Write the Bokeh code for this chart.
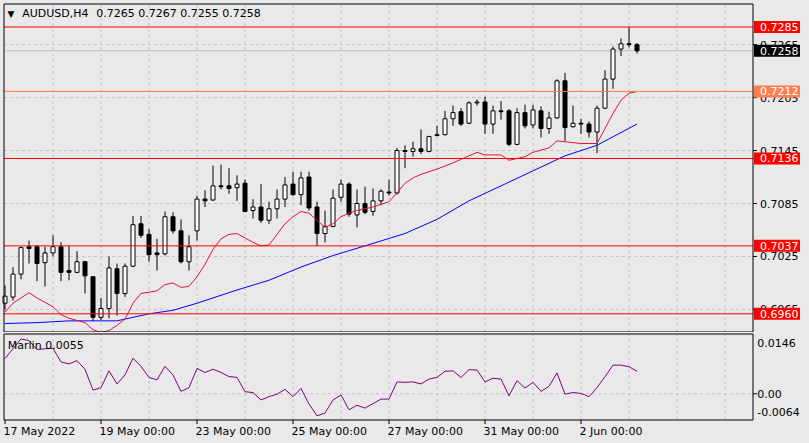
from bokeh.plotting import figure
from bokeh.layouts import column
from bokeh.models import Range1d, ColumnDataSource
from bokeh.embed import file_html
from bokeh.resources import INLINE
from bokeh.core.properties import value

# ---------------- data ----------------
SYMBOL = "AUDUSD,H4"
OPEN = [0.6972, 0.6979, 0.7005, 0.7036, 0.7036, 0.7018, 0.7029, 0.7036, 0.7009, 0.7007,
        0.7019, 0.7002, 0.6956, 0.6966, 0.7011, 0.6983, 0.7014, 0.7062, 0.7050, 0.7029,
        0.7028, 0.7070, 0.7054, 0.7019, 0.7054, 0.7090, 0.7089, 0.7105, 0.7105, 0.7103,
        0.7108, 0.7077, 0.7081, 0.7066, 0.7079, 0.7090, 0.7107, 0.7095, 0.7115, 0.7081,
        0.7051, 0.7059, 0.7092, 0.7107, 0.7072, 0.7085, 0.7076, 0.7088, 0.7098, 0.7097,
        0.7145, 0.7144, 0.7147, 0.7144, 0.7162, 0.7163, 0.7181, 0.7189, 0.7176, 0.7199,
        0.7200, 0.7175, 0.7190, 0.7190, 0.7152, 0.7188, 0.7174, 0.7190, 0.7170, 0.7182,
        0.7224, 0.7172, 0.7176, 0.7175, 0.7166, 0.7193, 0.7226, 0.7260, 0.7266, 0.7265]
HIGH = [0.6992, 0.7013, 0.7036, 0.7043, 0.7038, 0.7036, 0.7049, 0.7041, 0.7037, 0.7031,
        0.7020, 0.7003, 0.6978, 0.7025, 0.7017, 0.7017, 0.7071, 0.7071, 0.7056, 0.7045,
        0.7076, 0.7075, 0.7067, 0.7049, 0.7094, 0.7100, 0.7128, 0.7129, 0.7125, 0.7117,
        0.7112, 0.7090, 0.7107, 0.7087, 0.7101, 0.7115, 0.7121, 0.7121, 0.7121, 0.7087,
        0.7077, 0.7101, 0.7112, 0.7109, 0.7101, 0.7104, 0.7102, 0.7101, 0.7112, 0.7148,
        0.7151, 0.7155, 0.7169, 0.7161, 0.7173, 0.7190, 0.7196, 0.7193, 0.7201, 0.7203,
        0.7206, 0.7196, 0.7201, 0.7192, 0.7193, 0.7197, 0.7197, 0.7195, 0.7189, 0.7226,
        0.7233, 0.7196, 0.7181, 0.7178, 0.7196, 0.7236, 0.7263, 0.7272, 0.7285, 0.7267]
LOW = [0.6965, 0.6975, 0.6999, 0.7017, 0.6997, 0.6991, 0.7025, 0.6997, 0.6998, 0.7006,
       0.6983, 0.6952, 0.6953, 0.6955, 0.6958, 0.6979, 0.7013, 0.7046, 0.7019, 0.7009,
       0.7026, 0.7051, 0.7017, 0.7009, 0.7043, 0.7081, 0.7088, 0.7101, 0.7096, 0.7088,
       0.7075, 0.7068, 0.7063, 0.7062, 0.7068, 0.7081, 0.7094, 0.7083, 0.7077, 0.7037,
       0.7041, 0.7058, 0.7087, 0.7070, 0.7058, 0.7073, 0.7071, 0.7083, 0.7094, 0.7095,
       0.7125, 0.7138, 0.7141, 0.7143, 0.7161, 0.7162, 0.7173, 0.7173, 0.7175, 0.7196,
       0.7164, 0.7164, 0.7180, 0.7150, 0.7151, 0.7170, 0.7170, 0.7160, 0.7164, 0.7181,
       0.7156, 0.7171, 0.7164, 0.7160, 0.7142, 0.7192, 0.7215, 0.7252, 0.7262, 0.7255]
CLOSE = [0.6980, 0.7005, 0.7035, 0.7034, 0.7017, 0.7029, 0.7036, 0.7007, 0.7007, 0.7019,
         0.7003, 0.6956, 0.6966, 0.7012, 0.6983, 0.7014, 0.7061, 0.7049, 0.7027, 0.7027,
         0.7070, 0.7054, 0.7019, 0.7036, 0.7090, 0.7088, 0.7105, 0.7104, 0.7102, 0.7107,
         0.7076, 0.7081, 0.7066, 0.7079, 0.7090, 0.7106, 0.7095, 0.7114, 0.7080, 0.7051,
         0.7059, 0.7091, 0.7107, 0.7073, 0.7085, 0.7075, 0.7088, 0.7099, 0.7097, 0.7145,
         0.7144, 0.7147, 0.7144, 0.7161, 0.7163, 0.7181, 0.7188, 0.7175, 0.7199, 0.7200,
         0.7175, 0.7190, 0.7189, 0.7152, 0.7188, 0.7173, 0.7191, 0.7170, 0.7182, 0.7224,
         0.7171, 0.7176, 0.7175, 0.7166, 0.7193, 0.7226, 0.7260, 0.7266, 0.7265, 0.7258]

FAST_MA_BARS = [0, 1, 3, 4, 6, 7, 8, 10, 11, 12, 13, 14, 15, 16, 17, 19, 20, 21, 22, 23,
                24, 25, 26, 27, 28, 29, 30, 31, 32, 33, 34, 35, 36, 37, 38, 39, 40, 41, 42, 43,
                44, 46, 48, 49, 50, 51, 52, 54, 56, 57, 58, 59, 60, 62, 63, 64, 65, 66, 68, 69,
                70, 72, 74, 75, 76, 77, 78, 79]
FAST_MA = [0.6962, 0.6972, 0.6984, 0.6978, 0.6968, 0.6959, 0.6955, 0.6950, 0.6942, 0.6939,
           0.6941, 0.6947, 0.6954, 0.6972, 0.6983, 0.6986, 0.6993, 0.6995, 0.6990, 0.6991,
           0.7002, 0.7016, 0.7033, 0.7045, 0.7050, 0.7051, 0.7046, 0.7041, 0.7037, 0.7038,
           0.7050, 0.7062, 0.7070, 0.7076, 0.7074, 0.7066, 0.7058, 0.7062, 0.7070, 0.7074,
           0.7077, 0.7081, 0.7087, 0.7097, 0.7108, 0.7114, 0.7118, 0.7124, 0.7131, 0.7135,
           0.7139, 0.7143, 0.7140, 0.7140, 0.7134, 0.7136, 0.7138, 0.7143, 0.7148, 0.7156,
           0.7155, 0.7153, 0.7153, 0.7170, 0.7187, 0.7202, 0.7210, 0.7212]

SLOW_MA_BARS = [0, 4, 8, 12, 14, 16, 18, 21, 24, 29, 33, 37, 41, 45, 50, 54, 58, 62, 66, 70, 74, 79]
SLOW_MA = [0.6949, 0.6950, 0.6952, 0.6952, 0.6952, 0.6956, 0.6960, 0.6964, 0.6972, 0.6987,
           0.6998, 0.7013, 0.7026, 0.7037, 0.7051, 0.7067, 0.7088, 0.7105, 0.7122, 0.7139,
           0.7151, 0.7175]

MARLIN = [0.0086, 0.0110, 0.0134, 0.0130, 0.0108, 0.0110, 0.0111, 0.0078, 0.0073, 0.0081,
          0.0060, 0.0009, 0.0015, 0.0056, 0.0024, 0.0046, 0.0087, 0.0067, 0.0040, 0.0034,
          0.0067, 0.0046, 0.0006, 0.0015, 0.0062, 0.0052, 0.0060, 0.0052, 0.0042, 0.0040,
          0.0005, 0.0003, -0.0015, -0.0007, -0.0001, 0.0011, -0.0007, 0.0013, -0.0025, -0.0054,
          -0.0047, -0.0015, -0.0003, -0.0039, -0.0028, -0.0035, -0.0024, -0.0013, -0.0013, 0.0029,
          0.0028, 0.0029, 0.0024, 0.0036, 0.0040, 0.0055, 0.0056, 0.0040, 0.0059, 0.0058,
          0.0029, 0.0038, 0.0036, -0.0005, 0.0032, 0.0014, 0.0028, 0.0006, 0.0018, 0.0051,
          -0.0001, 0.0003, 0.0001, -0.0007, 0.0015, 0.0042, 0.0070, 0.0070, 0.0066, 0.0055]

PRICE_TICKS = [0.7265, 0.7205, 0.7145, 0.7085, 0.7025, 0.6965]
LEVELS = [0.7285, 0.7212, 0.7136, 0.7037, 0.6960]
LEVEL_COLORS = ["#ff0000", "#ff7f50", "#ff0000", "#ff0000", "#ff0000"]
BID = 0.7258
MARLIN_MAX, MARLIN_MIN = 0.0146, -0.0064
TIME_LABELS = ["17 May 2022", "19 May 00:00", "23 May 00:00", "25 May 00:00",
               "27 May 00:00", "31 May 00:00", "2 Jun 00:00"]
TIME_LABEL_BARS = [0, 12, 24, 36, 48, 60, 72]
BARS_PER_DAY = 6
N_GRID_DAYS = 15

# ---------------- layout / style ----------------
BG = "#e9e9e9"
GRIDC = "#c2c2c2"
FAST_C = "#e0143c"
SLOW_C = "#0000ff"
MARLIN_C = "#800080"
FONT = value("DejaVu Sans")
FS = "11px"

W, HA, HB = 809, 332, 111
BAR_PX = 8.0
X0 = -4.5 / BAR_PX            # bar 0 sits at x = 4.5 px
X1 = X0 + W / BAR_PX


def bx(px):
    return X0 + px / BAR_PX


LEFT = bx(3.5)
AXIS = bx(752.5)

KA = 8825.0                   # px per price unit
P_TOP = 0.7285 + 23.0 / KA    # pane top border (y = 3.5 px)
P_BOT = P_TOP - 328.0 / KA    # pane bottom border (y = 331.5 px)
A_END = P_TOP + 3.5 / KA
A_START = A_END - HA / KA


def ay(px):
    return A_END - px / KA


KB = 86.0 / (MARLIN_MAX - MARLIN_MIN)
B_END = MARLIN_MAX + 1.5 / KB
B_START = B_END - HB / KB


def by(px):
    return B_END - px / KB


GRID_BARS = [BARS_PER_DAY * k for k in range(1, N_GRID_DAYS + 1)]
n = len(OPEN)
IDX = list(range(n))


def text_kw(color="black", size=FS, align="left"):
    return dict(text_font=FONT, text_font_size=size, text_color=color,
                text_align=align, text_baseline="middle")


# ---------------- main price pane ----------------
pa = figure(width=W, height=HA, x_range=Range1d(X0, X1), y_range=Range1d(A_START, A_END),
            output_backend="svg", toolbar_location=None, x_axis_type=None, y_axis_type=None,
            min_border=0, background_fill_color=BG, border_fill_color=BG,
            outline_line_color=None, title=None)

g = len(GRID_BARS)
pa.segment(x0=GRID_BARS, y0=[P_BOT] * g, x1=GRID_BARS, y1=[P_TOP] * g,
           line_color=GRIDC, line_width=1, line_dash="3 3")
t = len(PRICE_TICKS)
pa.segment(x0=[LEFT] * t, y0=PRICE_TICKS, x1=[AXIS] * t, y1=PRICE_TICKS,
           line_color=GRIDC, line_width=1, line_dash="3 3")
pa.segment(x0=[LEFT], y0=[BID], x1=[AXIS], y1=[BID], line_color="#c0c0c0", line_width=1)

src = ColumnDataSource(dict(
    x=IDX, h=HIGH, l=LOW,
    top=[max(o, c) for o, c in zip(OPEN, CLOSE)],
    bottom=[min(o, c) for o, c in zip(OPEN, CLOSE)],
    fill=["white" if c >= o else "black" for o, c in zip(OPEN, CLOSE)],
))
pa.segment(x0="x", y0="l", x1="x", y1="h", source=src, line_color="black", line_width=1)
pa.vbar(x="x", width=0.5, top="top", bottom="bottom", source=src,
        fill_color="fill", line_color="black", line_width=1)

pa.line(SLOW_MA_BARS, SLOW_MA, line_color=SLOW_C, line_width=1)
pa.line(FAST_MA_BARS, FAST_MA, line_color=FAST_C, line_width=1)

k = len(LEVELS)
pa.segment(x0=[LEFT] * k, y0=LEVELS, x1=[AXIS] * k, y1=LEVELS,
           line_color=LEVEL_COLORS, line_width=1)

# pane frame
pa.segment(x0=[LEFT, AXIS, LEFT, LEFT], y0=[P_BOT, P_BOT, P_TOP, P_BOT],
           x1=[LEFT, AXIS, AXIS, AXIS], y1=[P_TOP, P_TOP, P_TOP, P_BOT],
           line_color="black", line_width=1)
# axis ticks and labels
pa.segment(x0=[AXIS] * t, y0=PRICE_TICKS, x1=[bx(756.5)] * t, y1=PRICE_TICKS,
           line_color="black", line_width=1)
pa.text(x=[bx(759.5)] * t, y=PRICE_TICKS, text=[f"{v:.4f}" for v in PRICE_TICKS], **text_kw())

# level price boxes
half = 6.0 / KA
box_levels = LEVELS + [BID]
box_colors = LEVEL_COLORS + ["black"]
nb = len(box_levels)
pa.quad(left=[bx(753.5)] * nb, right=[bx(799.5)] * nb,
        top=[v + half for v in box_levels], bottom=[v - half for v in box_levels],
        fill_color=box_colors, line_color=None)
pa.text(x=[bx(759.5)] * nb, y=box_levels,
        text=[f"{v:.4f}" for v in box_levels], **text_kw(color="white"))

# title
pa.text(x=[bx(7.0)], y=[ay(13.2)], text=["\u25BC"], **text_kw(size="9px"))
pa.text(x=[bx(21.7)], y=[ay(12.7)], text=[SYMBOL], **text_kw())
pa.text(x=[bx(95.7)], y=[ay(12.7)],
        text=[" ".join(f"{v:.4f}" for v in (OPEN[-1], HIGH[-1], LOW[-1], CLOSE[-1]))],
        **text_kw())

# ---------------- indicator pane ----------------
pb = figure(width=W, height=HB, x_range=Range1d(X0, X1), y_range=Range1d(B_START, B_END),
            output_backend="svg", toolbar_location=None, x_axis_type=None, y_axis_type=None,
            min_border=0, background_fill_color=BG, border_fill_color=BG,
            outline_line_color=None, title=None)

pb.segment(x0=GRID_BARS, y0=[MARLIN_MIN] * g, x1=GRID_BARS, y1=[MARLIN_MAX] * g,
           line_color=GRIDC, line_width=1, line_dash="3 3")
pb.segment(x0=[LEFT], y0=[0.0], x1=[AXIS], y1=[0.0],
           line_color=GRIDC, line_width=1, line_dash="3 3")
pb.line(IDX, MARLIN, line_color=MARLIN_C, line_width=1)

pb.segment(x0=[LEFT, AXIS, LEFT, LEFT], y0=[MARLIN_MIN, MARLIN_MIN, MARLIN_MAX, MARLIN_MIN],
           x1=[LEFT, AXIS, AXIS, AXIS], y1=[MARLIN_MAX, MARLIN_MAX, MARLIN_MAX, MARLIN_MIN],
           line_color="black", line_width=1)
pb.segment(x0=[AXIS], y0=[0.0], x1=[bx(756.5)], y1=[0.0], line_color="black", line_width=1)
pb.text(x=[bx(756.7)] * 3,
        y=[MARLIN_MAX - 9.2 / KB, 0.0, MARLIN_MIN + 8.5 / KB],
        text=[f"{MARLIN_MAX:.4f}", "0.00", f"{MARLIN_MIN:.4f}"], **text_kw())

pb.text(x=[bx(7.3)], y=[by(12.5)], text=[f"Marlin {MARLIN[-1]:.4f}"], **text_kw())

m = len(TIME_LABEL_BARS)
pb.segment(x0=TIME_LABEL_BARS, y0=[MARLIN_MIN] * m,
           x1=TIME_LABEL_BARS, y1=[by(91.5)] * m,
           line_color="black", line_width=1)
pb.text(x=[b - 1.5 / BAR_PX for b in TIME_LABEL_BARS], y=[by(99.0)] * m,
        text=TIME_LABELS, **text_kw())

layout = column(pa, pb, spacing=0)

html = None
try:
    from bokeh.core.templates import get_env
    tmpl = get_env().from_string(
        '{% extends "file.html" %}{% block preamble %}'
        '<style>body{background:#e9e9e9;}</style>{% endblock %}')
    html = file_html(layout, INLINE, template=tmpl)
except Exception:
    html = None
if html is None:
    html = file_html(layout, INLINE)
open("out.html", "w").write(html)
